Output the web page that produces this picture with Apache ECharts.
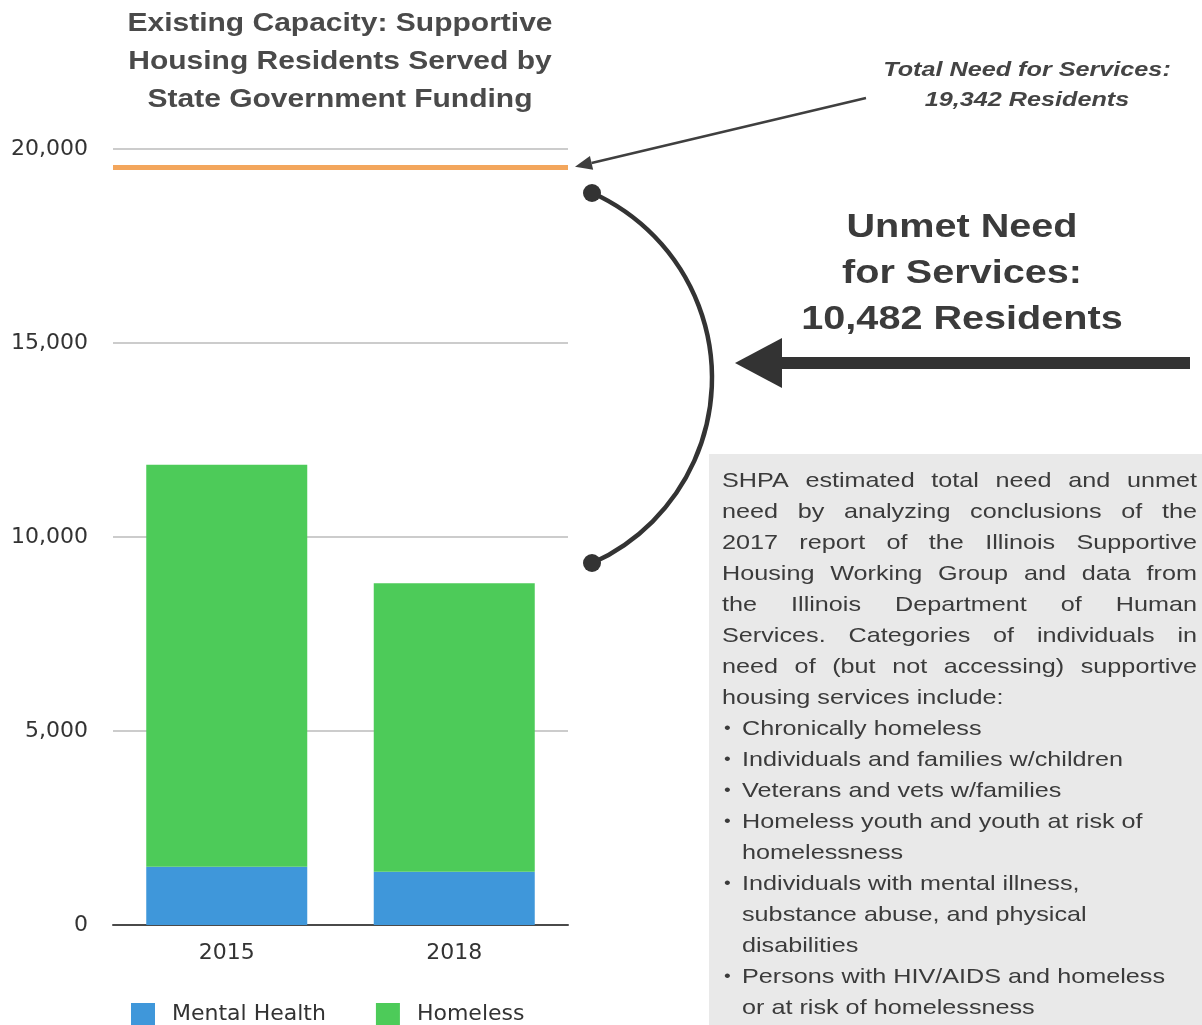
<!DOCTYPE html>
<html>
<head>
<meta charset="utf-8">
<script src="https://cdn.jsdelivr.net/npm/echarts@6/dist/echarts.min.js"></script>
<style>
  html, body { margin: 0; padding: 0; background: #fff; }
  #chart { width: 1202px; height: 1025px; }
</style>
</head>
<body>
<div id="chart"></div>
<script>
// values
var years = ['2015', '2018']
var mentalHealth = [1500, 1370]
var homeless = [10360, 7440]
var totalNeedLine = 19540
var yMin = 0
var yMax = 20000
var yStep = 5000

var titleLines = ['Existing Capacity: Supportive', 'Housing Residents Served by', 'State Government Funding']
var totalNeedLines = ['Total Need for Services:', '19,342 Residents']
var unmetLines = ['Unmet Need', 'for Services:', '10,482 Residents']
var noteJustified = [
  'SHPA estimated total need and unmet',
  'need by analyzing conclusions of the',
  '2017 report of the Illinois Supportive',
  'Housing Working Group and data from',
  'the Illinois Department of Human',
  'Services. Categories of individuals in',
  'need of (but not accessing) supportive'
]
var noteLast = 'housing services include:'
var noteBullets = [
  ['Chronically homeless'],
  ['Individuals and families w/children'],
  ['Veterans and vets w/families'],
  ['Homeless youth and youth at risk of', 'homelessness'],
  ['Individuals with mental illness,', 'substance abuse, and physical', 'disabilities'],
  ['Persons with HIV/AIDS and homeless', 'or at risk of homelessness']
]

var FONT = '"Liberation Sans", Arial, Helvetica, sans-serif'
var AXFONT = '"DejaVu Sans", sans-serif'
var SX = 1.2 // the scan is stretched sideways
var INK = '#3b3b3b'

var chart = echarts.init(document.getElementById('chart'))

var option = {
  animation: false,
  backgroundColor: '#fff',
  grid: { left: 113, right: 634, top: 149, bottom: 100 },
  legend: {
    left: 131,
    top: 1003,
    padding: 0,
    icon: 'rect',
    itemWidth: 24,
    itemHeight: 22,
    itemGap: 50,
    textStyle: { fontSize: 22, color: '#333', fontFamily: AXFONT, padding: [0, 0, 0, 12] }
  },
  xAxis: {
    type: 'category',
    data: years,
    axisLine: { lineStyle: { color: '#4a4a4a', width: 2 } },
    axisTick: { show: false },
    axisLabel: { fontSize: 22, color: '#333', margin: 17, fontFamily: AXFONT }
  },
  yAxis: {
    type: 'value',
    min: yMin,
    max: yMax,
    interval: yStep,
    axisLine: { show: false },
    axisTick: { show: false },
    splitLine: { lineStyle: { color: '#cccccc', width: 2 } },
    axisLabel: {
      fontSize: 22,
      color: '#333',
      margin: 25,
      fontFamily: AXFONT,
      formatter: function (v) { return v.toLocaleString('en-US') }
    }
  },
  series: [{
    name: 'Mental Health',
    type: 'bar',
    stack: 'capacity',
    barWidth: 161,
    data: mentalHealth,
    itemStyle: { color: '#3F97DA' }
  }, {
    name: 'Homeless',
    type: 'bar',
    stack: 'capacity',
    data: homeless,
    itemStyle: { color: '#4DCB59' },
    markLine: {
      silent: true,
      symbol: 'none',
      label: { show: false },
      lineStyle: { color: '#F3A65C', width: 5, type: 'solid' },
      data: [{ yAxis: totalNeedLine }]
    }
  }]
}
chart.setOption(option)

// annotations
var cv = document.createElement('canvas').getContext('2d')
function measure (word, font) {
  cv.font = font
  return cv.measureText(word).width * SX
}

function textEl (str, x, y, font, align, color) {
  return {
    type: 'text',
    x: x,
    y: y,
    scaleX: SX,
    style: {
      text: str,
      font: font,
      fill: color || INK,
      align: align,
      textAlign: align,
      verticalAlign: 'middle',
      textVerticalAlign: 'middle'
    }
  }
}

var els = []
var titleFont = 'bold 25px ' + FONT
titleLines.forEach(function (t, i) {
  els.push(textEl(t, 340, 24 + i * 38, titleFont, 'center', '#4a4a4a'))
})

var needFont = 'italic bold 21px ' + FONT
totalNeedLines.forEach(function (t, i) {
  els.push(textEl(t, 1027, 70 + i * 30, needFont, 'center', '#444'))
})

var unmetFont = 'bold 33px ' + FONT
unmetLines.forEach(function (t, i) {
  els.push(textEl(t, 962, 228 + i * 46, unmetFont, 'center', INK))
})

// thin arrow to the total need line
var lineY = chart.convertToPixel({ yAxisIndex: 0 }, totalNeedLine)
var tip = [575, lineY]
var tail = [866, 98]
var dx = tail[0] - tip[0]
var dy = tail[1] - tip[1]
var len = Math.sqrt(dx * dx + dy * dy)
var ux = dx / len
var uy = dy / len
var hb = [tip[0] + ux * 17, tip[1] + uy * 17]
els.push({
  type: 'line',
  shape: { x1: tail[0], y1: tail[1], x2: hb[0], y2: hb[1] },
  style: { stroke: '#3f3f3f', lineWidth: 2.5 }
})
els.push({
  type: 'polygon',
  shape: { points: [tip, [hb[0] - uy * 7, hb[1] + ux * 7], [hb[0] + uy * 7, hb[1] - ux * 7]] },
  style: { fill: '#3f3f3f' }
})

// bracket curve with end dots
els.push({
  type: 'arc',
  shape: { cx: 509, cy: 378, r: 203, startAngle: -1.15, endAngle: 1.15, clockwise: true },
  style: { stroke: '#333', lineWidth: 4.5, fill: 'none' }
})
els.push({ type: 'circle', shape: { cx: 592, cy: 193, r: 9 }, style: { fill: '#333' } })
els.push({ type: 'circle', shape: { cx: 592, cy: 563, r: 9 }, style: { fill: '#333' } })

// big arrow
els.push({
  type: 'line',
  shape: { x1: 1190, y1: 363, x2: 776, y2: 363 },
  style: { stroke: '#333', lineWidth: 12 }
})
els.push({
  type: 'polygon',
  shape: { points: [[735, 363], [782, 338], [782, 388]] },
  style: { fill: '#333' }
})

// note box
els.push({
  type: 'rect',
  shape: { x: 709, y: 454, width: 493, height: 571 },
  style: { fill: '#e9e9e9' }
})

var bodyFont = '21px ' + FONT
var left = 722
var right = 1197
var rowY = 481
var rowH = 31
noteJustified.forEach(function (line) {
  var words = line.split(' ')
  var widths = words.map(function (w) { return measure(w, bodyFont) })
  var sum = widths.reduce(function (a, b) { return a + b }, 0)
  var gap = (right - left - sum) / (words.length - 1)
  var x = left
  words.forEach(function (w, k) {
    els.push(textEl(w, x, rowY, bodyFont, 'left', INK))
    x += widths[k] + gap
  })
  rowY += rowH
})
els.push(textEl(noteLast, left, rowY, bodyFont, 'left', INK))
rowY += rowH
noteBullets.forEach(function (item) {
  els.push(textEl('•', 724, rowY, '16px ' + FONT, 'left', INK))
  item.forEach(function (t) {
    els.push(textEl(t, 742, rowY, bodyFont, 'left', INK))
    rowY += rowH
  })
})

chart.setOption({ graphic: { elements: els } })
</script>
</body>
</html>
